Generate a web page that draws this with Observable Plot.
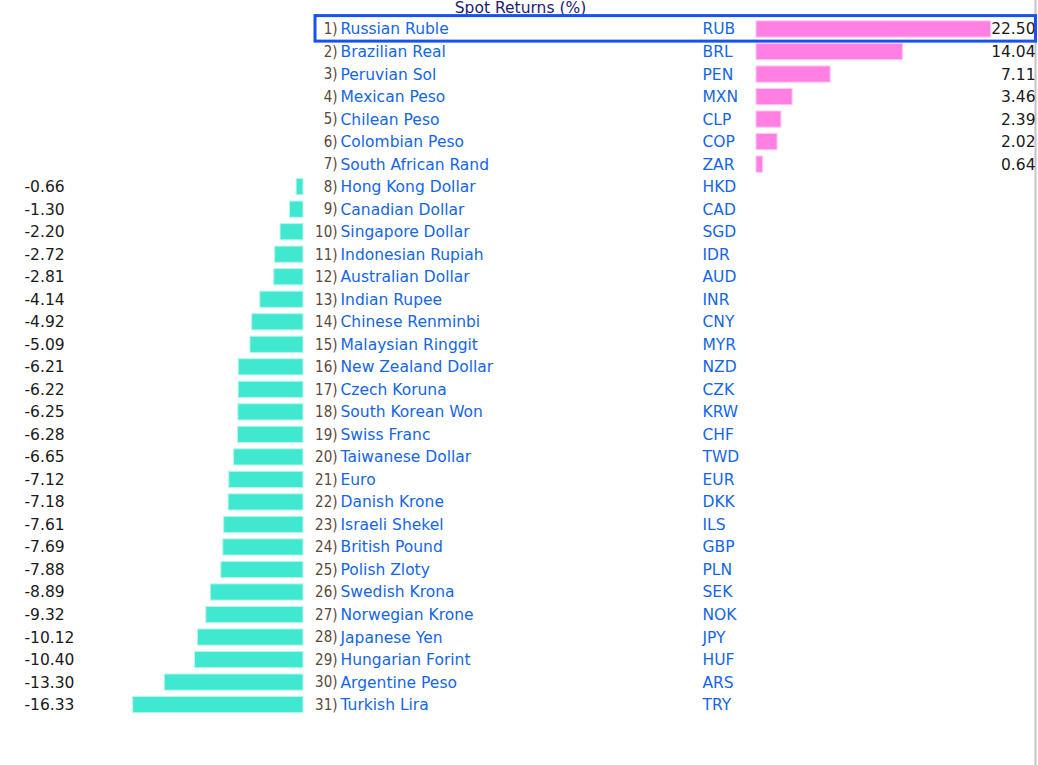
<!DOCTYPE html>
<html>
<head>
<meta charset="utf-8">
<script src="https://cdn.jsdelivr.net/npm/d3@7"></script>
<script src="https://cdn.jsdelivr.net/npm/@observablehq/plot@0.6"></script>
<style>
  html, body { margin: 0; padding: 0; background: #fff; }
  #chart svg { display: block; }
</style>
</head>
<body>
<div id="chart"></div>
<script>
const title = "Spot Returns (%)";
const names = ["Russian Ruble","Brazilian Real","Peruvian Sol","Mexican Peso","Chilean Peso","Colombian Peso","South African Rand","Hong Kong Dollar","Canadian Dollar","Singapore Dollar","Indonesian Rupiah","Australian Dollar","Indian Rupee","Chinese Renminbi","Malaysian Ringgit","New Zealand Dollar","Czech Koruna","South Korean Won","Swiss Franc","Taiwanese Dollar","Euro","Danish Krone","Israeli Shekel","British Pound","Polish Zloty","Swedish Krona","Norwegian Krone","Japanese Yen","Hungarian Forint","Argentine Peso","Turkish Lira"];
const codes = ["RUB","BRL","PEN","MXN","CLP","COP","ZAR","HKD","CAD","SGD","IDR","AUD","INR","CNY","MYR","NZD","CZK","KRW","CHF","TWD","EUR","DKK","ILS","GBP","PLN","SEK","NOK","JPY","HUF","ARS","TRY"];
const returns = [22.50,14.04,7.11,3.46,2.39,2.02,0.64,-0.66,-1.30,-2.20,-2.72,-2.81,-4.14,-4.92,-5.09,-6.21,-6.22,-6.25,-6.28,-6.65,-7.12,-7.18,-7.61,-7.69,-7.88,-8.89,-9.32,-10.12,-10.40,-13.30,-16.33];
const highlighted = ["Russian Ruble"];

const rows = names.map((name, i) => ({rank: `${i + 1})`, name, code: codes[i], value: returns[i]}));
const pos = rows.filter(d => d.value >= 0);
const neg = rows.filter(d => d.value < 0);

const W = 1038, H = 765;
const pxPerUnit = 10.43;
const zeroNeg = 303;      // pixel of zero for negative bars
const zeroPos = 756;      // pixel of zero for positive bars
const fmt = v => v.toFixed(2);
const font = "'DejaVu Sans', sans-serif";
const narrow = "'Liberation Sans Narrow', 'DejaVu Sans Condensed', sans-serif";
const blue = "#1466e6";

const chart = Plot.plot({
  width: W,
  height: H,
  margin: 0,
  style: {fontFamily: font, background: "#fff"},
  x: {domain: [-zeroNeg / pxPerUnit, (W - zeroNeg) / pxPerUnit], range: [0, W], axis: null},
  y: {domain: names, range: [17.75, 17.75 + 22.52 * 31], paddingInner: 0.28, paddingOuter: 0.14, round: false, axis: null},
  marks: [
    // right-edge panel divider
    Plot.frame({anchor: "right", stroke: "#c4c4c4", strokeWidth: 2, insetRight: 3}),
    // title
    Plot.text([title], {frameAnchor: "top", dx: 1, dy: 1.5, lineAnchor: "top", fill: "#1c1c70", fontSize: 15.5, fontFamily: font}),
    // negative bars
    Plot.barX(neg, {y: "name", x1: "value", x2: 0, fill: "#40e8d0", stroke: "#b8f6ec", strokeWidth: 1}),
    // positive bars (drawn in the right panel)
    Plot.barX(pos, {y: "name", x1: 0, x2: "value", dx: zeroPos - zeroNeg, fill: "#ff80e2", stroke: "#ffc8f2", strokeWidth: 1}),
    // negative value labels
    Plot.text(neg, {y: "name", text: d => fmt(d.value), frameAnchor: "left", dx: 24, textAnchor: "start", fill: "#1a1a1a", fontSize: 15.5, fontFamily: font}),
    // positive value labels
    Plot.text(pos, {y: "name", text: d => fmt(d.value), frameAnchor: "right", dx: -3, textAnchor: "end", fill: "#1a1a1a", fontSize: 15.5, fontFamily: font}),
    // rank numbers
    Plot.text(rows, {y: "name", text: "rank", frameAnchor: "left", dx: 337, textAnchor: "end", fill: "#5a4838", fontSize: 15, fontFamily: narrow, letterSpacing: "-1px"}),
    // names
    Plot.text(rows, {y: "name", text: "name", frameAnchor: "left", dx: 340, textAnchor: "start", fill: blue, fontSize: 15.5, fontFamily: font}),
    // codes
    Plot.text(rows, {y: "name", text: "code", frameAnchor: "left", dx: 702, textAnchor: "start", fill: blue, fontSize: 15.5, fontFamily: font}),
    // highlighted row box
    Plot.cell(rows.filter(d => highlighted.includes(d.name)), {y: "name", fill: "none", stroke: "#1652ee", strokeWidth: 3, insetLeft: 315, insetRight: 2.5, insetTop: -5.3, insetBottom: -4})
  ]
});
document.getElementById("chart").append(chart);
</script>
</body>
</html>
